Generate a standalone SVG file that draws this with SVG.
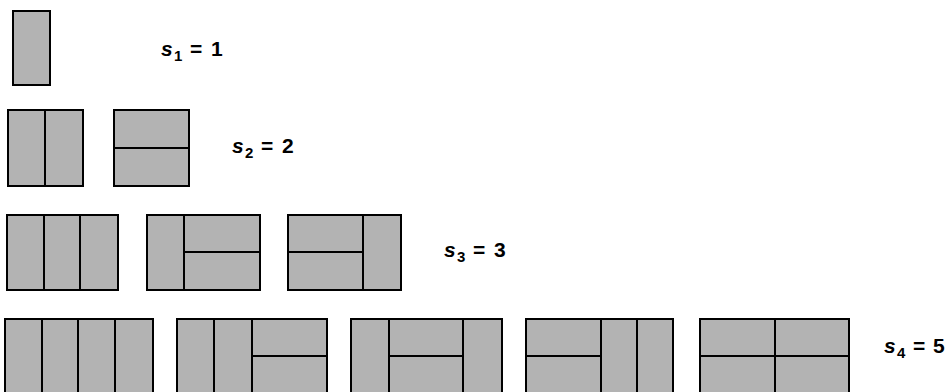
<svg xmlns="http://www.w3.org/2000/svg" width="948" height="392" viewBox="0 0 948 392">
<style>
.t{fill:#b3b3b3;stroke:#000;stroke-width:2}
.l{stroke:#000;stroke-width:2;fill:none}
text{font-family:"Liberation Sans",Arial,sans-serif;font-weight:bold;font-size:21px;fill:#000}
.s{font-style:italic}
.sub{font-size:15px}
</style>
<rect width="948" height="392" fill="#fff"/>
<g id="row1">
<g id="t1"><rect class="t" x="13" y="11" width="37" height="74"/></g>
<text id="label1"><tspan class="s" x="161" y="56">s</tspan><tspan class="sub" x="174" y="60.5">1</tspan><tspan x="190" y="56">=</tspan><tspan x="211" y="56">1</tspan></text>
</g>
<g id="row2">
<g id="t2a"><rect class="t" x="8" y="110" width="75" height="76"/><line class="l" x1="45" y1="110" x2="45" y2="186"/></g>
<g id="t2b"><rect class="t" x="114" y="110" width="75" height="76"/><line class="l" x1="114" y1="148" x2="189" y2="148"/></g>
<text id="label2"><tspan class="s" x="232" y="153">s</tspan><tspan class="sub" x="245" y="157.5">2</tspan><tspan x="261" y="153">=</tspan><tspan x="282" y="153">2</tspan></text>
</g>
<g id="row3">
<g id="t3a"><rect class="t" x="7" y="215" width="111" height="75"/><line class="l" x1="44" y1="215" x2="44" y2="290"/><line class="l" x1="80" y1="215" x2="80" y2="290"/></g>
<g id="t3b"><rect class="t" x="147" y="215" width="113" height="75"/><line class="l" x1="184" y1="215" x2="184" y2="290"/><line class="l" x1="184" y1="252" x2="260" y2="252"/></g>
<g id="t3c"><rect class="t" x="288" y="215" width="113" height="75"/><line class="l" x1="363" y1="215" x2="363" y2="290"/><line class="l" x1="288" y1="252" x2="363" y2="252"/></g>
<text id="label3"><tspan class="s" x="444" y="257">s</tspan><tspan class="sub" x="457" y="261.5">3</tspan><tspan x="473" y="257">=</tspan><tspan x="494" y="257">3</tspan></text>
</g>
<g id="row4">
<g id="t4a"><rect class="t" x="5" y="319" width="148" height="76"/><line class="l" x1="42" y1="319" x2="42" y2="395"/><line class="l" x1="78" y1="319" x2="78" y2="395"/><line class="l" x1="115" y1="319" x2="115" y2="395"/></g>
<g id="t4b"><rect class="t" x="177" y="319" width="150" height="76"/><line class="l" x1="214" y1="319" x2="214" y2="395"/><line class="l" x1="252" y1="319" x2="252" y2="395"/><line class="l" x1="252" y1="356" x2="327" y2="356"/></g>
<g id="t4c"><rect class="t" x="351" y="319" width="151" height="76"/><line class="l" x1="389" y1="319" x2="389" y2="395"/><line class="l" x1="463" y1="319" x2="463" y2="395"/><line class="l" x1="389" y1="356" x2="463" y2="356"/></g>
<g id="t4d"><rect class="t" x="526" y="319" width="147" height="76"/><line class="l" x1="601" y1="319" x2="601" y2="395"/><line class="l" x1="637" y1="319" x2="637" y2="395"/><line class="l" x1="526" y1="356" x2="601" y2="356"/></g>
<g id="t4e"><rect class="t" x="700" y="319" width="149" height="76"/><line class="l" x1="775" y1="319" x2="775" y2="395"/><line class="l" x1="700" y1="356" x2="849" y2="356"/></g>
<text id="label4"><tspan class="s" x="884" y="353">s</tspan><tspan class="sub" x="897" y="357.5">4</tspan><tspan x="913" y="353">=</tspan><tspan x="933" y="353">5</tspan></text>
</g>
</svg>
